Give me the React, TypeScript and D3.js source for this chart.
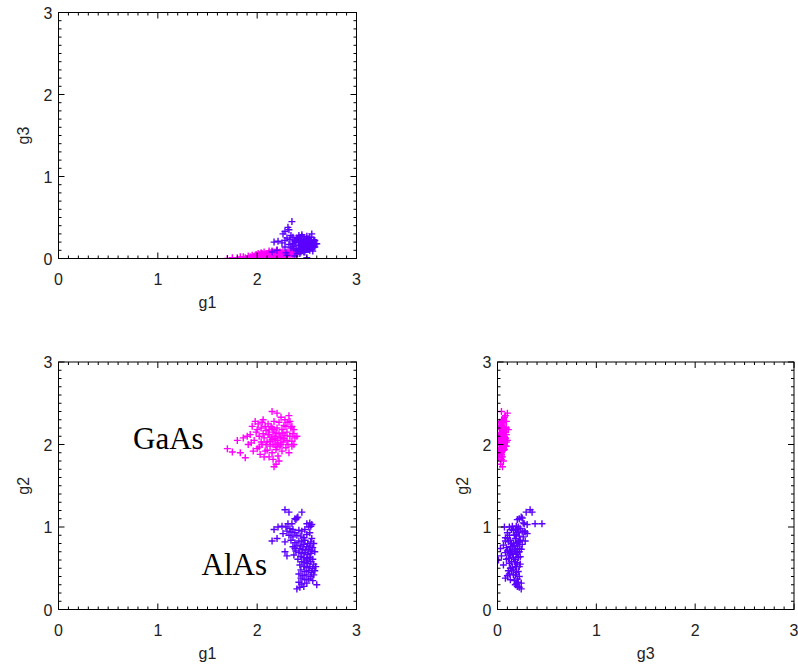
import React from "react";
import * as d3 from "d3";

// Each sample: [g1, g2, g3]
const gaasPoints: [number, number, number][] = [
  [1.70, 1.95, 0.00], [1.75, 1.91, 0.01], [1.83, 1.90, 0.02], [1.88, 1.84, 0.01],
  [1.91, 2.00, 0.03], [1.95, 2.22, 0.04], [1.93, 2.12, 0.02], [2.17, 1.73, 0.05],
  [2.19, 1.76, 0.03], [2.15, 2.40, 0.04], [2.20, 2.38, 0.10], [2.32, 2.35, 0.08],
  [2.38, 2.08, 0.07], [2.40, 2.10, 0.05], [2.37, 2.18, 0.11], [2.35, 1.98, 0.09],
  [1.97, 2.05, 0.02], [1.99, 2.15, 0.05], [2.00, 1.95, 0.03], [2.01, 2.25, 0.06],
  [2.02, 2.10, 0.01], [2.03, 1.88, 0.04], [2.04, 2.20, 0.07], [2.05, 2.00, 0.02],
  [2.06, 2.30, 0.05], [2.07, 2.08, 0.08], [2.08, 1.92, 0.03], [2.09, 2.17, 0.06],
  [2.10, 2.03, 0.04], [2.11, 2.25, 0.02], [2.12, 1.85, 0.05], [2.12, 2.12, 0.09],
  [2.13, 1.98, 0.07], [2.14, 2.22, 0.03], [2.15, 2.06, 0.05], [2.15, 1.90, 0.02],
  [2.16, 2.15, 0.08], [2.17, 2.28, 0.06], [2.18, 2.00, 0.04], [2.18, 2.10, 0.03],
  [2.19, 1.94, 0.07], [2.20, 2.20, 0.05], [2.20, 2.05, 0.10], [2.21, 1.86, 0.04],
  [2.22, 2.13, 0.06], [2.22, 2.27, 0.02], [2.23, 1.98, 0.08], [2.24, 2.08, 0.03],
  [2.25, 2.18, 0.07], [2.25, 1.92, 0.05], [2.26, 2.03, 0.09], [2.27, 2.23, 0.04],
  [2.28, 2.11, 0.06], [2.29, 1.96, 0.03], [2.30, 2.15, 0.08], [2.30, 2.05, 0.05],
  [2.31, 2.27, 0.06], [2.32, 1.90, 0.04], [2.33, 2.10, 0.07], [2.34, 2.20, 0.03],
  [2.35, 2.04, 0.06], [2.36, 2.13, 0.04], [2.16, 2.00, 0.06], [2.14, 2.09, 0.04],
  [2.19, 2.14, 0.02], [2.21, 2.02, 0.07], [2.17, 2.18, 0.05], [2.13, 2.04, 0.03],
  [2.23, 2.09, 0.05], [2.11, 2.12, 0.06], [2.18, 2.07, 0.08], [2.24, 2.00, 0.02],
  [2.09, 2.00, 0.05], [2.06, 2.13, 0.03], [2.27, 2.07, 0.06], [2.15, 2.20, 0.09],
  [2.20, 1.97, 0.05], [2.26, 2.14, 0.03], [2.08, 2.22, 0.04], [2.12, 2.18, 0.07],
  [2.04, 2.03, 0.06], [2.29, 2.22, 0.05], [2.31, 2.00, 0.07], [2.10, 1.93, 0.06],
  [2.16, 1.82, 0.04], [2.22, 1.80, 0.06], [2.02, 1.97, 0.05], [2.00, 2.18, 0.03],
  [1.98, 2.28, 0.04], [2.05, 2.27, 0.06], [2.28, 2.30, 0.05], [2.24, 2.33, 0.07],
  [2.33, 2.28, 0.09], [2.37, 2.00, 0.04], [2.35, 2.22, 0.06], [1.96, 1.92, 0.02],
  [1.94, 2.02, 0.01], [2.07, 1.85, 0.04], [1.80, 2.05, 0.01], [1.86, 2.08, 0.02],
  [1.90, 2.10, 0.00],
];

const alasPoints: [number, number, number][] = [
  [2.28, 1.21, 0.33], [2.32, 1.18, 0.35], [2.45, 1.18, 0.29], [2.38, 1.10, 0.22],
  [2.40, 1.11, 0.25], [2.39, 1.09, 0.20], [2.41, 1.12, 0.24], [2.35, 1.04, 0.45],
  [2.31, 1.04, 0.38], [2.50, 1.04, 0.27], [2.53, 1.05, 0.26], [2.55, 1.03, 0.30],
  [2.52, 1.00, 0.12], [2.54, 1.01, 0.15], [2.17, 0.97, 0.20], [2.21, 1.00, 0.21],
  [2.25, 1.01, 0.19], [2.29, 1.00, 0.07], [2.33, 0.98, 0.23], [2.36, 0.97, 0.18],
  [2.30, 0.95, 0.25], [2.34, 0.94, 0.28], [2.38, 0.93, 0.21], [2.42, 0.96, 0.16],
  [2.45, 0.95, 0.27], [2.48, 0.97, 0.14], [2.26, 0.92, 0.30], [2.32, 0.90, 0.17],
  [2.40, 0.90, 0.12], [2.44, 0.89, 0.22], [2.50, 0.91, 0.19], [2.53, 0.93, 0.10],
  [2.36, 0.88, 0.26], [2.47, 0.87, 0.08], [2.55, 0.86, 0.18],
  [2.15, 0.83, 0.08], [2.20, 0.86, 0.10], [2.28, 0.82, 0.22], [2.34, 0.84, 0.13],
  [2.38, 0.81, 0.19], [2.42, 0.83, 0.28], [2.45, 0.82, 0.11], [2.48, 0.84, 0.23],
  [2.51, 0.80, 0.16], [2.54, 0.82, 0.21], [2.57, 0.80, 0.14], [2.40, 0.78, 0.06],
  [2.44, 0.77, 0.17], [2.47, 0.79, 0.25], [2.50, 0.76, 0.13], [2.53, 0.77, 0.20],
  [2.56, 0.75, 0.09], [2.36, 0.76, 0.15], [2.43, 0.74, 0.22], [2.46, 0.73, 0.18],
  [2.49, 0.72, 0.12], [2.52, 0.73, 0.24], [2.55, 0.71, 0.17], [2.28, 0.70, 0.14],
  [2.30, 0.65, 0.04], [2.39, 0.71, 0.10], [2.42, 0.69, 0.20], [2.45, 0.68, 0.15],
  [2.48, 0.69, 0.08], [2.51, 0.67, 0.19], [2.54, 0.68, 0.13], [2.58, 0.70, 0.22],
  [2.37, 0.66, 0.12], [2.44, 0.64, 0.23], [2.47, 0.63, 0.16], [2.50, 0.62, 0.11],
  [2.53, 0.63, 0.21], [2.56, 0.61, 0.18], [2.41, 0.61, 0.09], [2.50, 0.60, 0.01],
  [2.38, 0.74, 0.03],
  [2.45, 0.58, 0.14], [2.48, 0.57, 0.20], [2.51, 0.56, 0.12], [2.54, 0.58, 0.17],
  [2.57, 0.55, 0.23], [2.43, 0.54, 0.06], [2.47, 0.52, 0.19], [2.50, 0.51, 0.15],
  [2.53, 0.52, 0.22], [2.56, 0.50, 0.13], [2.59, 0.52, 0.18], [2.44, 0.48, 0.16],
  [2.48, 0.46, 0.21], [2.52, 0.47, 0.11], [2.55, 0.45, 0.19], [2.58, 0.47, 0.14],
  [2.42, 0.43, 0.12], [2.46, 0.41, 0.10], [2.50, 0.42, 0.18], [2.54, 0.40, 0.22],
  [2.57, 0.42, 0.16], [2.44, 0.38, 0.08], [2.48, 0.36, 0.13], [2.52, 0.37, 0.20],
  [2.56, 0.35, 0.17], [2.42, 0.33, 0.21], [2.45, 0.31, 0.19], [2.50, 0.32, 0.24],
  [2.60, 0.30, 0.18], [2.40, 0.25, 0.24], [2.43, 0.27, 0.22], [2.47, 0.28, 0.20],
];

const axisDomain: [number, number] = [0, 3];
const majorTicks = [0, 1, 2, 3];
const axisNames = ["g1", "g2", "g3"];

const GAAS_COLOR = "#ff00ff";
const ALAS_COLOR = "#5a00ff";
const SANS = "'Liberation Sans', Arial, Helvetica, sans-serif";

type PanelSpec = {
  id: string;
  left: number;
  top: number;
  width: number;
  height: number;
  xi: number; // index of the variable on x
  yi: number; // index of the variable on y
};

const panels: PanelSpec[] = [
  { id: "p13", left: 58.5, top: 12.5, width: 298, height: 246, xi: 0, yi: 2 },
  { id: "p12", left: 58.5, top: 362, width: 298, height: 247.5, xi: 0, yi: 1 },
  { id: "p32", left: 497.5, top: 362, width: 296.5, height: 247.5, xi: 2, yi: 1 },
];

function Plus({ x, y, color }: { x: number; y: number; color: string }) {
  const r = 3.5;
  return (
    <path
      d={`M${x - r},${y}H${x + r}M${x},${y - r}V${y + r}`}
      stroke={color}
      strokeWidth={1.4}
      fill="none"
    />
  );
}

function Panel({ spec }: { spec: PanelSpec }) {
  const { left, top, width, height, xi, yi } = spec;
  const x = d3.scaleLinear().domain(axisDomain).range([left, left + width]);
  const y = d3.scaleLinear().domain(axisDomain).range([top + height, top]);
  const minor = d3.range(0, 30.001, 1).map((v) => v / 10).filter((v) => Math.abs(v - Math.round(v)) > 1e-6);
  const bottom = top + height;
  const right = left + width;
  const majLen = 6;
  const minLen = 3;

  return (
    <g>
      <defs>
        <clipPath id={`clip-${spec.id}`}>
          <rect x={left} y={top} width={width} height={height} />
        </clipPath>
      </defs>
      <g clipPath={`url(#clip-${spec.id})`}>
        {gaasPoints.map((p, i) => (
          <Plus key={`g${i}`} x={x(p[xi])} y={y(p[yi])} color={GAAS_COLOR} />
        ))}
        {alasPoints.map((p, i) => (
          <Plus key={`a${i}`} x={x(p[xi])} y={y(p[yi])} color={ALAS_COLOR} />
        ))}
      </g>
      <rect x={left} y={top} width={width} height={height} fill="none" stroke="#000" strokeWidth={1} />
      <g stroke="#000" strokeWidth={1}>
        {minor.map((v) => (
          <g key={`m${v}`}>
            <line x1={x(v)} x2={x(v)} y1={bottom} y2={bottom - minLen} />
            <line x1={x(v)} x2={x(v)} y1={top} y2={top + minLen} />
            <line x1={left} x2={left + minLen} y1={y(v)} y2={y(v)} />
            <line x1={right} x2={right - minLen} y1={y(v)} y2={y(v)} />
          </g>
        ))}
        {majorTicks.map((v) => (
          <g key={`M${v}`}>
            <line x1={x(v)} x2={x(v)} y1={bottom} y2={bottom - majLen} />
            <line x1={x(v)} x2={x(v)} y1={top} y2={top + majLen} />
            <line x1={left} x2={left + majLen} y1={y(v)} y2={y(v)} />
            <line x1={right} x2={right - majLen} y1={y(v)} y2={y(v)} />
          </g>
        ))}
      </g>
      <g fontFamily={SANS} fontSize={16} fill="#222">
        {majorTicks.map((v) => (
          <text key={`xl${v}`} x={x(v)} y={bottom + 26} textAnchor="middle">
            {v}
          </text>
        ))}
        {majorTicks.map((v) => (
          <text key={`yl${v}`} x={left - 6} y={y(v) + 6} textAnchor="end">
            {v}
          </text>
        ))}
        <text x={(left + right) / 2} y={bottom + 49} textAnchor="middle">
          {axisNames[xi]}
        </text>
        <text
          transform={`translate(${left - 30},${(top + bottom) / 2}) rotate(-90)`}
          textAnchor="middle"
        >
          {axisNames[yi]}
        </text>
      </g>
    </g>
  );
}

export default function App() {
  const p12 = panels[1];
  const x = d3.scaleLinear().domain(axisDomain).range([p12.left, p12.left + p12.width]);
  const y = d3.scaleLinear().domain(axisDomain).range([p12.top + p12.height, p12.top]);
  return (
    <svg
      width={798}
      height={667}
      style={{ position: "absolute", left: 0, top: 0, background: "#fff" }}
    >
      <rect width={798} height={667} fill="#fff" />
      {panels.map((p) => (
        <Panel key={p.id} spec={p} />
      ))}
      <g fontFamily="'Liberation Serif', 'Times New Roman', serif" fontSize={31} fill="#000">
        <text x={x(0.75)} y={y(1.95)}>GaAs</text>
        <text x={x(1.44)} y={y(0.42)}>AlAs</text>
      </g>
    </svg>
  );
}
